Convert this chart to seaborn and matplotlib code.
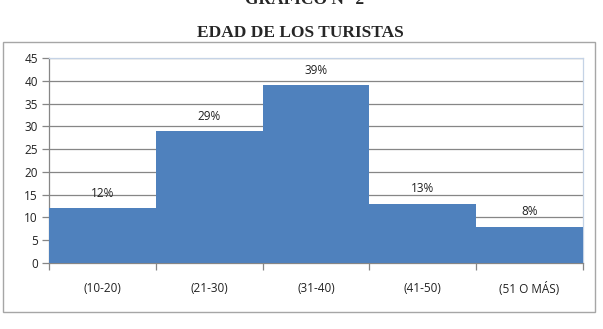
import pandas as pd
import seaborn as sns
import matplotlib.pyplot as plt
from matplotlib.patches import Rectangle

# datos del gráfico
edades = ["(10-20)", "(21-30)", "(31-40)", "(41-50)", "(51 O MÁS)"]
valores = [12, 29, 39, 13, 8]
etiquetas = ["12%", "29%", "39%", "13%", "8%"]
yticks = [0, 5, 10, 15, 20, 25, 30, 35, 40, 45]

AZUL = "#4F81BD"
GRIS = "#868686"

df = pd.DataFrame({"edad": edades, "valor": valores})

sns.set_style("white")
plt.rcParams["font.family"] = ["Open Sans", "DejaVu Sans"]

fig = plt.figure(figsize=(6.03, 3.29), dpi=100)
ax = fig.add_axes([49 / 603, 66 / 329, 534 / 603, 205 / 329])

sns.barplot(data=df, x="edad", y="valor", color=AZUL, width=1.0,
            saturation=1, linewidth=0, edgecolor="none", ax=ax, zorder=3)

ax.set_ylim(0, 45)
ax.set_xlim(-0.5, len(edades) - 0.5)
ax.set_yticks(yticks)
ax.set_xlabel("")
ax.set_ylabel("")

# cuadrícula
ax.yaxis.grid(True, color=GRIS, linewidth=0.9, zorder=0)
ax.set_axisbelow(True)

for lado in ["left", "bottom"]:
    ax.spines[lado].set_color(GRIS)
    ax.spines[lado].set_linewidth(0.9)
for lado in ["top", "right"]:
    ax.spines[lado].set_color("#c5d3e6")
    ax.spines[lado].set_linewidth(0.9)

ax.tick_params(axis="y", length=5, width=0.9, color=GRIS, pad=3,
               labelsize=8.5, labelcolor="#222222", left=True)
ax.tick_params(axis="x", which="major", length=0, pad=14,
               labelsize=8.5, labelcolor="#222222")
ax.set_xticks([i - 0.5 for i in range(len(edades) + 1)], minor=True)
ax.tick_params(axis="x", which="minor", length=5, width=0.9, color=GRIS,
               bottom=True)

# etiquetas de porcentaje
for i, (v, t) in enumerate(zip(valores, etiquetas)):
    ax.annotate(t, (i, v), xytext=(0, 6), textcoords="offset points",
                ha="center", va="bottom", fontsize=8.5, color="#222222")

# marco exterior del gráfico
fig.patches.append(Rectangle((3 / 603, 17 / 329), 592 / 603, 270 / 329,
                             transform=fig.transFigure, fill=False,
                             edgecolor="#a6a6a6", linewidth=1.0))

# títulos (el primero queda cortado arriba, como en el original)
fig.text(0.498, 1 - 33 / 329, "EDAD DE LOS TURISTAS", ha="center",
         va="center", fontsize=12.5, fontweight="bold",
         family=["Liberation Serif", "DejaVu Serif"])
fig.text(0.505, 1 - 4 / 329, "GRÁFICO N° 2", ha="center", va="baseline",
         fontsize=12.5, fontweight="bold",
         family=["Liberation Serif", "DejaVu Serif"])

fig.savefig("out.png", dpi=100)
